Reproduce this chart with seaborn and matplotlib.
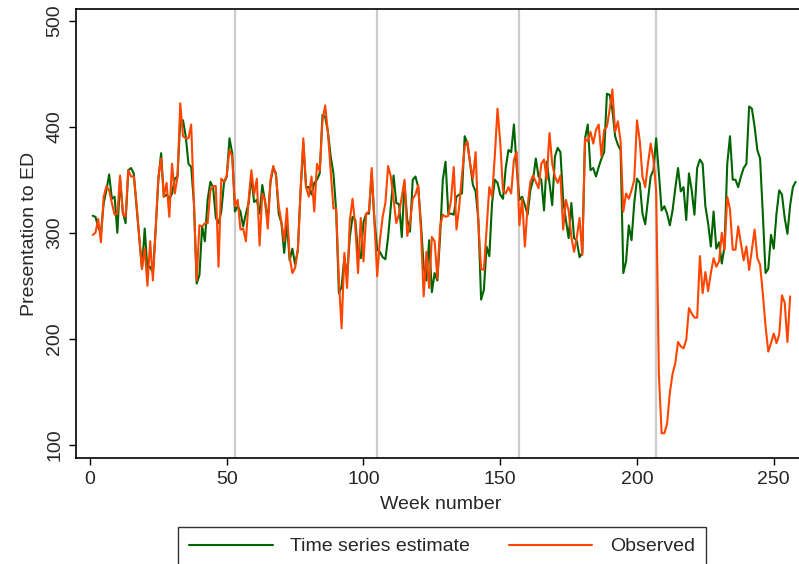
import numpy as np
import pandas as pd
import matplotlib
matplotlib.use("Agg")
import matplotlib.pyplot as plt
import seaborn as sns

# ---- data ----
estimate = [
    316, 315, 305, 300, 328, 340, 355, 332, 334, 300,
    350, 320, 309, 359, 361, 356, 325, 296, 266, 304,
    266, 268, 262, 303, 350, 375, 334, 336, 332, 337,
    351, 353, 406, 406, 391, 365, 362, 328, 252, 260,
    306, 292, 331, 348, 343, 314, 309, 320, 347, 353,
    389, 375, 320, 325, 320, 306, 318, 328, 353, 329,
    331, 318, 345, 329, 312, 348, 361, 356, 318, 309,
    281, 309, 274, 285, 270, 284, 340, 384, 343, 343,
    336, 347, 350, 356, 411, 409, 395, 372, 356, 321,
    243, 249, 277, 259, 296, 315, 312, 281, 276, 310,
    318, 318, 356, 312, 284, 282, 277, 275, 296, 325,
    354, 328, 327, 296, 347, 312, 301, 350, 353, 343,
    309, 268, 255, 293, 244, 262, 255, 296, 350, 367,
    318, 318, 317, 334, 336, 337, 391, 384, 365, 345,
    339, 312, 237, 246, 287, 278, 328, 350, 347, 336,
    332, 361, 378, 376, 402, 362, 331, 334, 326, 317,
    340, 350, 370, 353, 350, 321, 367, 347, 326, 372,
    380, 376, 331, 312, 295, 328, 295, 292, 277, 281,
    389, 402, 359, 361, 353, 362, 370, 376, 431, 430,
    416, 391, 383, 378, 262, 273, 307, 293, 328, 351,
    347, 318, 308, 331, 353, 359, 389, 356, 321, 325,
    318, 307, 321, 342, 361, 339, 343, 312, 356, 340,
    317, 361, 369, 365, 325, 309, 287, 320, 285, 291,
    271, 287, 365, 391, 350, 350, 343, 353, 361, 365,
    419, 417, 400, 378, 370, 318, 262, 266, 298, 285,
    318, 340, 336, 314, 299, 326, 343, 348,
]
observed = [
    298, 300, 313, 291, 334, 344, 340, 328, 317, 318,
    354, 318, 315, 359, 353, 353, 328, 296, 266, 285,
    250, 292, 255, 303, 353, 370, 334, 347, 315, 365,
    337, 353, 422, 391, 389, 389, 402, 328, 255, 307,
    306, 309, 309, 340, 344, 344, 268, 351, 348, 354,
    378, 372, 325, 331, 303, 304, 292, 331, 359, 336,
    351, 288, 337, 331, 304, 350, 363, 354, 325, 310,
    292, 323, 277, 262, 267, 284, 340, 389, 343, 334,
    353, 320, 365, 358, 406, 420, 394, 359, 323, 323,
    255, 210, 281, 248, 312, 332, 306, 262, 314, 273,
    318, 320, 361, 309, 259, 293, 315, 328, 363, 353,
    331, 309, 318, 334, 350, 297, 309, 332, 336, 345,
    303, 240, 282, 248, 296, 292, 257, 306, 317, 315,
    316, 331, 362, 303, 325, 354, 381, 386, 365, 351,
    376, 309, 266, 265, 303, 343, 334, 372, 417, 385,
    340, 337, 343, 337, 369, 376, 307, 332, 287, 325,
    348, 354, 348, 342, 365, 369, 350, 394, 365, 353,
    347, 354, 303, 331, 321, 296, 282, 296, 314, 279,
    389, 386, 395, 384, 397, 402, 372, 397, 400, 416,
    435, 395, 405, 386, 320, 337, 332, 340, 350, 406,
    387, 353, 343, 365, 384, 369, 340, 167, 111, 111,
    120, 149, 167, 177, 197, 193, 191, 199, 229, 224,
    220, 220, 278, 243, 263, 245, 262, 276, 268, 273,
    300, 284, 334, 322, 284, 284, 306, 290, 274, 287,
    265, 284, 303, 276, 270, 243, 212, 188, 196, 205,
    196, 204, 241, 234, 197, 240,
]
break_weeks = [53, 105, 157, 207]
x_ticks = [0, 50, 100, 150, 200, 250]
y_ticks = [100, 200, 300, 400, 500]
series_names = ["Time series estimate", "Observed"]
series_colors = ["#006400", "#FF4500"]

df = pd.concat([
    pd.DataFrame({"week": np.arange(1, len(estimate) + 1), "value": estimate,
                  "series": series_names[0]}),
    pd.DataFrame({"week": np.arange(1, len(observed) + 1), "value": observed,
                  "series": series_names[1]}),
], ignore_index=True)

sns.set_theme(style="white")
plt.rcParams["font.family"] = ["Liberation Sans", "DejaVu Sans"]

W, H = 799, 564
fig = plt.figure(figsize=(W / 100, H / 100), dpi=100)
left_px, right_px, top_px, bottom_px = 76, 805, 9, 458
ax = fig.add_axes([left_px / W, 1 - bottom_px / H,
                   (right_px - left_px) / W, (bottom_px - top_px) / H])

for wk in break_weeks:
    ax.axvline(wk, color="#cccccc", lw=1.6, zorder=0)

sns.lineplot(data=df, x="week", y="value", hue="series",
             palette=dict(zip(series_names, series_colors)),
             hue_order=series_names, lw=1.5, ax=ax, estimator=None)

x0 = (left_px - 90) / 2.735
x1 = (right_px - 90) / 2.735
ax.set_xlim(x0, x1)
ax.set_ylim(87.7, 510.9)
ax.set_xticks(x_ticks)
ax.set_yticks(y_ticks)
ax.set_xlabel("Week number", fontsize=14, labelpad=6)
ax.set_ylabel("Presentation to ED", fontsize=14, labelpad=6)
ax.tick_params(axis="both", which="major", direction="out", length=5,
               width=1, color="black", labelsize=14, bottom=True, left=True,
               pad=4)
for lab in ax.get_yticklabels():
    lab.set_rotation(90)
    lab.set_va("center")
for sp in ax.spines.values():
    sp.set_color("black")
    sp.set_linewidth(1.2)

handles, labels = ax.get_legend_handles_labels()
ax.get_legend().remove()
leg = fig.legend(handles, labels, loc="upper center", ncol=2,
                 bbox_to_anchor=(442 / W, 1 - 527 / H),
                 frameon=True, fontsize=14, handlelength=4.3,
                 columnspacing=2.0, handletextpad=0.9, borderpad=0.55,
                 fancybox=False, borderaxespad=0)
leg.get_frame().set_edgecolor("black")
leg.get_frame().set_linewidth(1.0)
for h in leg.get_lines():
    h.set_linewidth(1.5)

fig.savefig("out.png", dpi=100)
